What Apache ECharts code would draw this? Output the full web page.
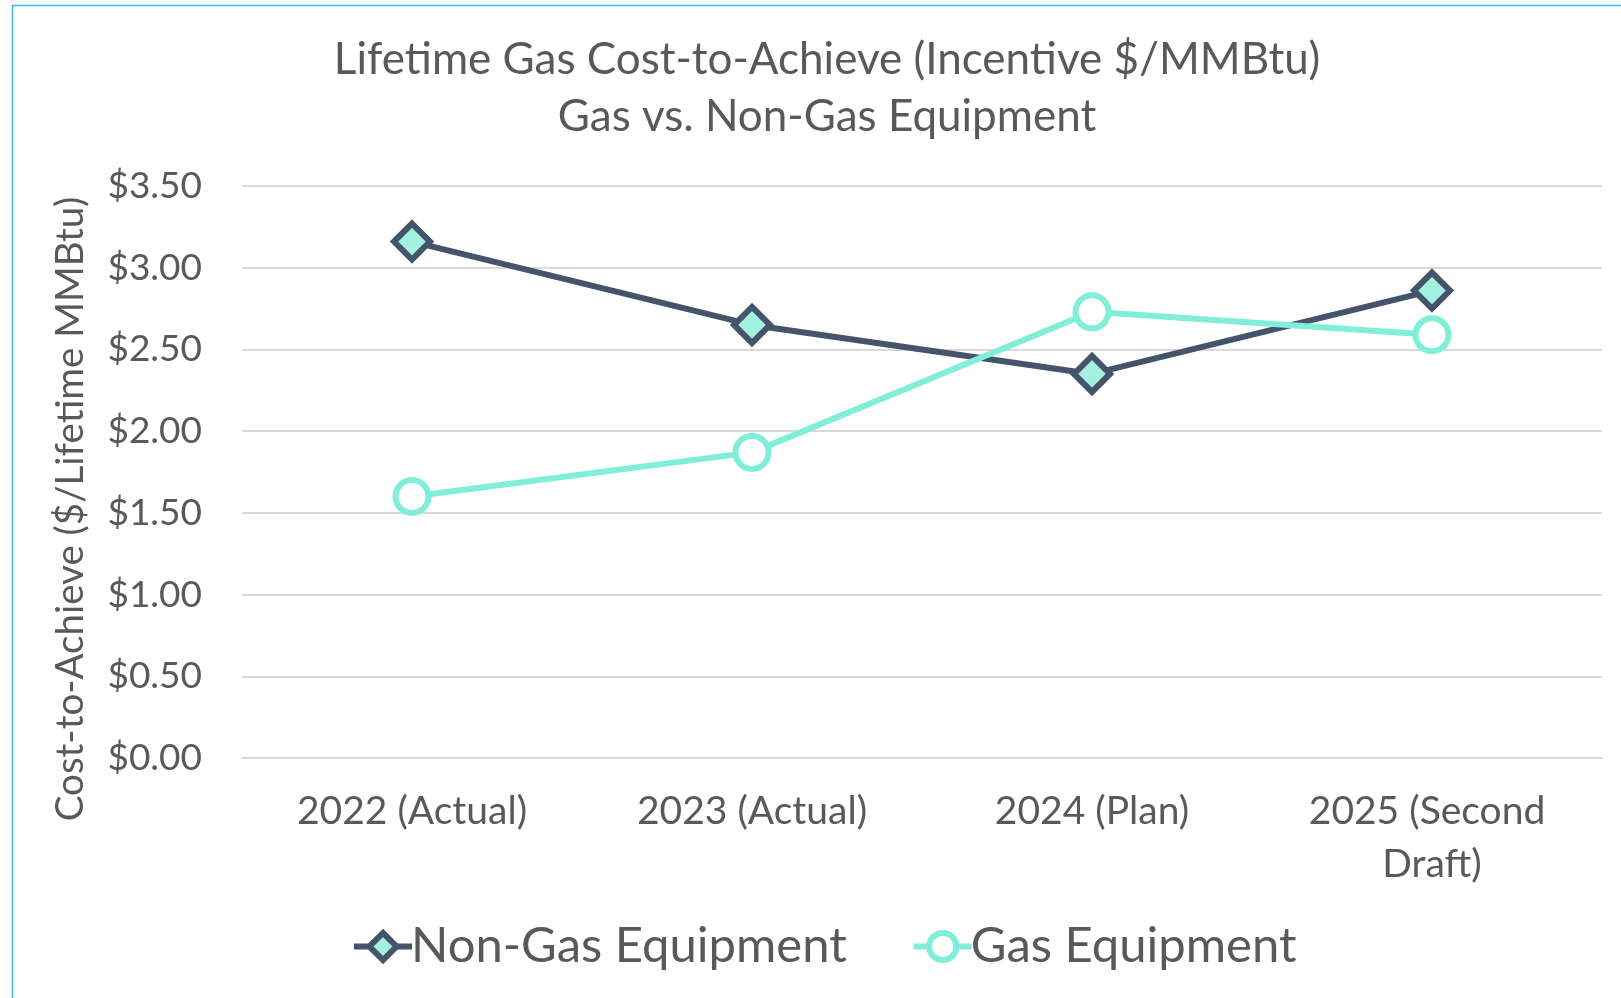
<!DOCTYPE html>
<html>
<head>
<meta charset="utf-8">
<script src="https://cdn.jsdelivr.net/npm/echarts@6/dist/echarts.min.js"></script>
<style>html,body{margin:0;padding:0;background:#fff}#c{width:1621px;height:998px}</style>
</head>
<body>
<div id="c"></div>
<script>
const categories = ['2022 (Actual)', '2023 (Actual)', '2024 (Plan)', '2025 (Second Draft)'];
const nonGasEquipment = [3.16, 2.65, 2.35, 2.86];
const gasEquipment = [1.60, 1.87, 2.73, 2.59];
const yTicks = { min: 0, max: 3.5, interval: 0.5 };
const titleLines = ['Lifetime Gas Cost-to-Achieve (Incentive $/MMBtu)', 'Gas vs. Non-Gas Equipment'];
const yAxisTitle = 'Cost-to-Achieve ($/Lifetime MMBtu)';

const FONT = 'Lato';
const TXT = '#595959';
const chart = echarts.init(document.getElementById('c'));
chart.setOption({
  backgroundColor: '#fff',
  animation: false,
  graphic: [{
    type: 'rect', shape: { x: 12.5, y: 5.5, width: 1700, height: 1100 },
    style: { fill: 'none', stroke: '#41B4F0', lineWidth: 1.5 }, silent: true, z: -1
  }],
  title: {
    text: titleLines.join('\n'),
    left: 822, top: 26, textAlign: 'center',
    textStyle: { fontFamily: FONT, fontSize: 44, fontWeight: 'normal', color: TXT, lineHeight: 57 }
  },
  legend: {
    bottom: 22, left: 346,
    itemWidth: 58, itemHeight: 34, itemGap: 64,
    textStyle: { fontFamily: FONT, fontSize: 49, color: TXT, padding: [0, 0, 0, -6] },
    lineStyle: { width: 6 },
    itemStyle: { borderWidth: 6 },
    data: ['Non-Gas Equipment', 'Gas Equipment']
  },
  grid: { left: 242, right: 19, top: 186, bottom: 240 },
  xAxis: {
    type: 'category', data: categories, boundaryGap: true,
    axisLine: { show: true, lineStyle: { color: '#D9D9D9', width: 2 } },
    axisTick: { show: false },
    axisLabel: { fontFamily: FONT, fontSize: 39, color: TXT, margin: 27, lineHeight: 53, width: 310, overflow: 'break', interval: 0 }
  },
  yAxis: {
    type: 'value', min: yTicks.min, max: yTicks.max, interval: yTicks.interval,
    name: yAxisTitle, nameLocation: 'middle', nameGap: 152, nameRotate: 90,
    nameTextStyle: { fontFamily: FONT, fontSize: 38.5, color: TXT, padding: [0, 74, 0, 0] },
    axisLine: { show: false }, axisTick: { show: false },
    splitLine: { lineStyle: { color: '#D9D9D9', width: 2 } },
    axisLabel: { fontFamily: FONT, fontSize: 37, color: TXT, margin: 40, formatter: v => '$' + v.toFixed(2) }
  },
  series: [{
    name: 'Non-Gas Equipment', type: 'line', data: nonGasEquipment,
    symbol: 'diamond', symbolSize: 36,
    lineStyle: { color: '#44546A', width: 6 },
    itemStyle: { color: '#A3F0E0', borderColor: '#44546A', borderWidth: 6 }
  }, {
    name: 'Gas Equipment', type: 'line', data: gasEquipment,
    symbol: 'circle', symbolSize: 33,
    lineStyle: { color: '#80EED9', width: 6 },
    itemStyle: { color: '#FFFFFF', borderColor: '#80EED9', borderWidth: 6 }
  }]
});
</script>
</body>
</html>
